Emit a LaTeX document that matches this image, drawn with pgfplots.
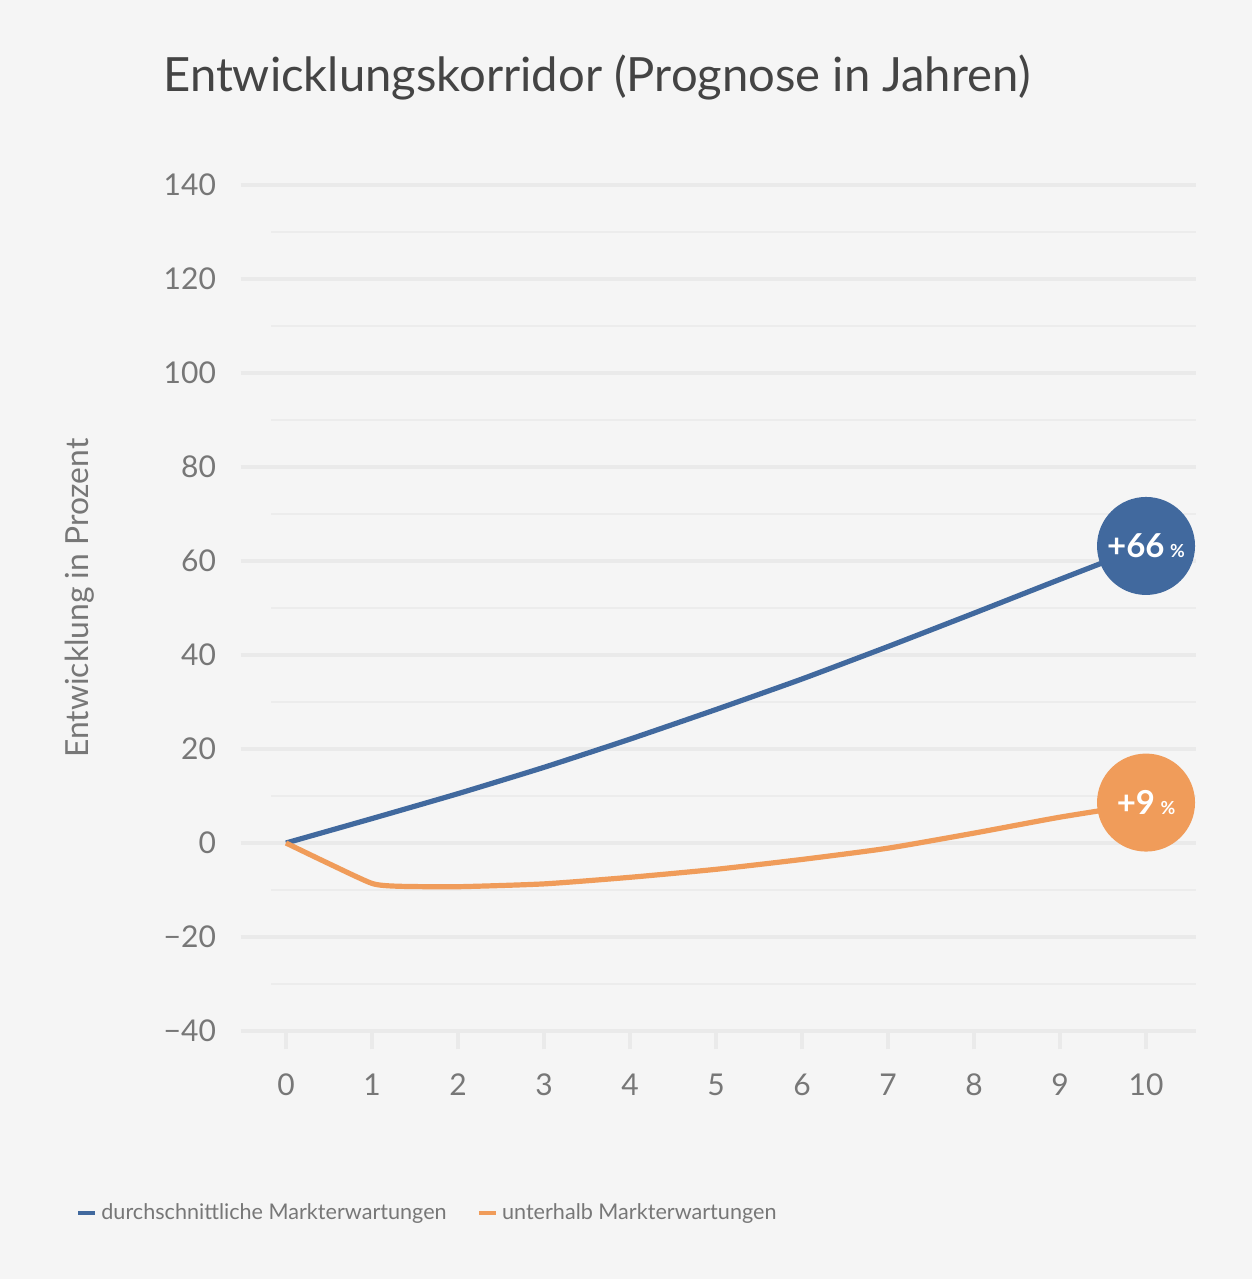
\documentclass[border=0pt]{standalone}
\usepackage{pgfplots}
\pgfplotsset{compat=1.18}
\usepackage{fontspec}
\setmainfont{Lato}
\definecolor{bg}{HTML}{F5F5F5}
\definecolor{gridmaj}{HTML}{EAEAEA}
\definecolor{gridmin}{HTML}{ECECEC}
\definecolor{ticktxt}{HTML}{777777}
\definecolor{titletxt}{HTML}{444444}
\definecolor{cblue}{HTML}{41699E}
\definecolor{corange}{HTML}{F09C5A}
\begin{document}
\begin{tikzpicture}
\fill[bg] (-120.5pt,-124pt) rectangle (505.5pt,515.5pt);
\begin{axis}[
  at={(0,0)}, anchor=south west,
  scale only axis, width=477.5pt, height=423pt,
  xmin=-0.523, xmax=10.581, ymin=-40, ymax=140,
  axis line style={draw=none},
  xtick={0,...,10}, ytick={-40,-20,...,140},
  yticklabels={−40,−20,0,20,40,60,80,100,120,140},
  xtick pos=lower, ytick pos=left,
  ymajorgrids, grid style={gridmaj, line width=2pt},
  y tick style={draw=none},
  x tick style={gridmaj, line width=2pt},
  tick align=outside, major tick length=9pt,
  ticklabel style={font=\fontsize{15}{17}\selectfont, text=ticktxt},
  yticklabel style={xshift=0pt},
  xticklabel style={yshift=-9pt},
  /pgf/number format/assume math mode=true,
  legend columns=2,
  legend style={draw=none, fill=none, at={(-0.1795,-0.215)}, anchor=west,
    font=\fontsize{10.8}{12}\selectfont, text=ticktxt,
    /tikz/every even column/.append style={column sep=13pt}},
  legend image code/.code={\draw[#1, line width=2.2pt] (0pt,0pt) -- (8.5pt,0pt);},
  clip=false,
]
\pgfplotsinvokeforeach{-30,-10,10,30,50,70,90,110,130}{
  \draw[gridmin, line width=1pt] (axis cs:-0.174,#1) -- (axis cs:10.581,#1);
}
\addplot[cblue, line width=2.6pt, smooth, tension=0.3] coordinates {
 (0,0) (1,5.2) (2,10.5) (3,16.1) (4,22.1) (5,28.4) (6,34.9) (7,41.8) (8,48.9) (9,56.1) (10,63.2)};
\addlegendentry{durchschnittliche Markterwartungen}
\addplot[corange, line width=2.6pt, smooth, tension=0.35] coordinates {
 (0,0) (0.5,-4.4) (1,-8.6) (1.3,-9.2) (2,-9.3) (3,-8.7) (4,-7.3) (5,-5.6) (6,-3.5) (7,-1.1) (8,2.1) (9,5.5) (10,8.4)};
\addlegendentry{unterhalb Markterwartungen}
\node[circle, fill=cblue, minimum size=49pt, inner sep=0pt, text=white, font=\fontsize{16.5}{18}\selectfont\bfseries]
  at (axis cs:10,63.2) {+66\,{\fontsize{9}{10}\selectfont\%}};
\node[circle, fill=corange, minimum size=49pt, inner sep=0pt, text=white, font=\fontsize{16.5}{18}\selectfont\bfseries]
  at (axis cs:10,8.6) {+9\,{\fontsize{9}{10}\selectfont\%}};
\end{axis}
\node[anchor=base west, text=titletxt, font=\fontsize{23.6}{28}\selectfont, inner sep=0pt] at (-39pt,469.5pt) {Entwicklungskorridor (Prognose in Jahren)};
\node[rotate=90, text=ticktxt, font=\fontsize{15.9}{18}\selectfont] at (-80.5pt,216.5pt) {Entwicklung in Prozent};
\end{tikzpicture}
\end{document}
